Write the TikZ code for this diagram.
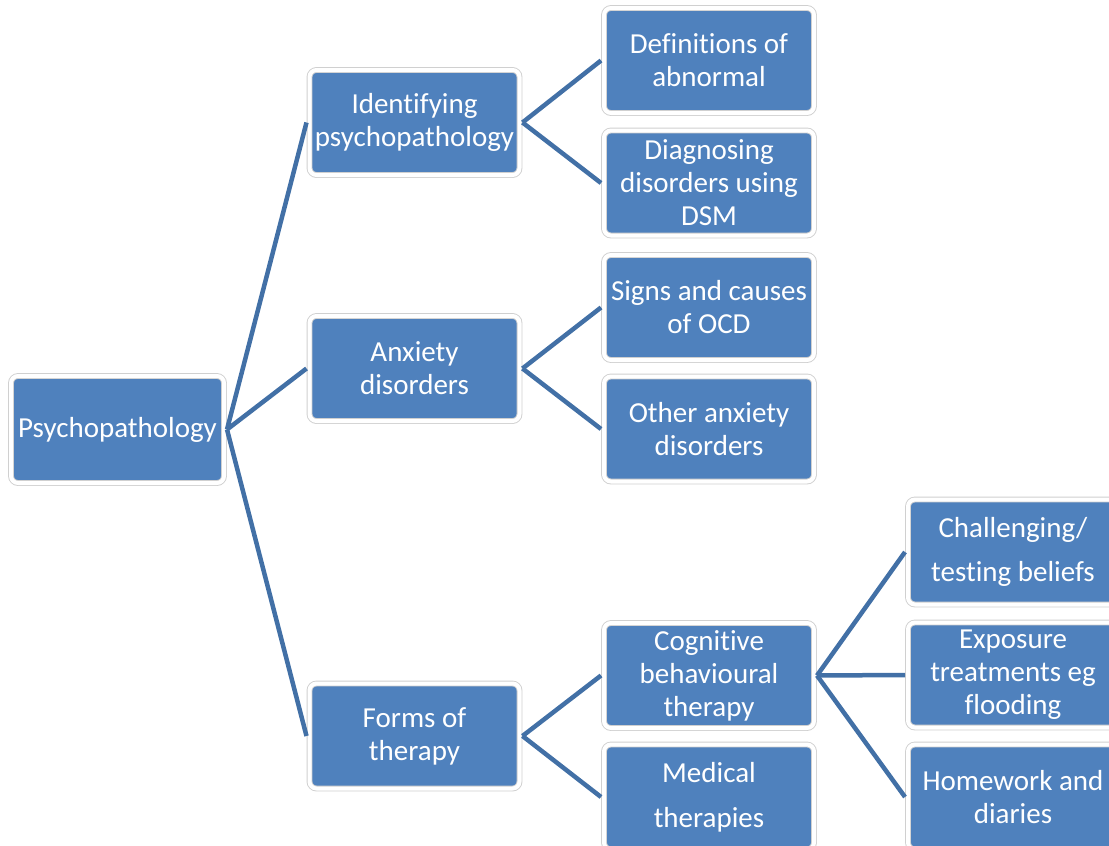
\documentclass[tikz,border=0pt]{standalone}
\usepackage{fontspec}
\setmainfont{Carlito}[Ligatures=NoCommon]
\definecolor{boxblue}{RGB}{79,129,189}
\definecolor{linkblue}{RGB}{66,112,166}
\definecolor{rim}{RGB}{208,208,208}
\begin{document}
\begin{tikzpicture}[x=1pt,y=-1pt,
  topic/.style={rectangle, rounded corners=7pt, fill=boxblue,
    draw=rim, line width=0.9pt, double=white, double distance=4pt,
    minimum width=210pt, minimum height=105pt, inner sep=0pt, outer sep=3pt,
    text=white, align=center, font=\fontsize{29}{33}\selectfont},
  link/.style={draw=linkblue, line width=4.5pt}]
  \useasboundingbox (0,0) rectangle (1109,846);
  \clip (0,0) rectangle (1109,846);

  % root
  \node[topic, minimum width=213pt, minimum height=107pt] (root) at (117.5,429.5) {Psychopathology};

  % first level
  \node[topic] (ident) at (414.5,122.5) {Identifying\\psychopathology};
  \node[topic] (anx)   at (414.5,368.5) {Anxiety\\disorders};
  \node[topic] (forms) at (414.5,736)   {Forms of\\therapy};

  % second level
  \node[topic] (defn)  at (709,60.5)  {Definitions of\\abnormal};
  \node[topic] (diag)  at (709,183)   {Diagnosing\\disorders using\\DSM};
  \node[topic] (signs) at (709,307.5) {Signs and causes\\of OCD};
  \node[topic] (other) at (709,429)   {Other anxiety\\disorders};
  \node[topic] (cbt)   at (709,675.5) {Cognitive\\behavioural\\therapy};
  \node[topic] (med)   at (709,797)   {Medical\\[12pt]therapies};

  % third level
  \node[topic] (chal)  at (1013,552) {Challenging/\\[11pt]testing beliefs};
  \node[topic] (expo)  at (1013,675) {Exposure\\treatments eg\\flooding};
  \node[topic] (home)  at (1013,797) {Homework and\\diaries};

  % connectors
  \draw[link] (root.east) -- (ident.west);
  \draw[link] (root.east) -- (anx.west);
  \draw[link] (root.east) -- (forms.west);
  \draw[link] (ident.east) -- (defn.west);
  \draw[link] (ident.east) -- (diag.west);
  \draw[link] (anx.east) -- (signs.west);
  \draw[link] (anx.east) -- (other.west);
  \draw[link] (forms.east) -- (cbt.west);
  \draw[link] (forms.east) -- (med.west);
  \draw[link] (cbt.east) -- (chal.west);
  \draw[link] (cbt.east) -- (expo.west);
  \draw[link] (cbt.east) -- (home.west);
\end{tikzpicture}
\end{document}
